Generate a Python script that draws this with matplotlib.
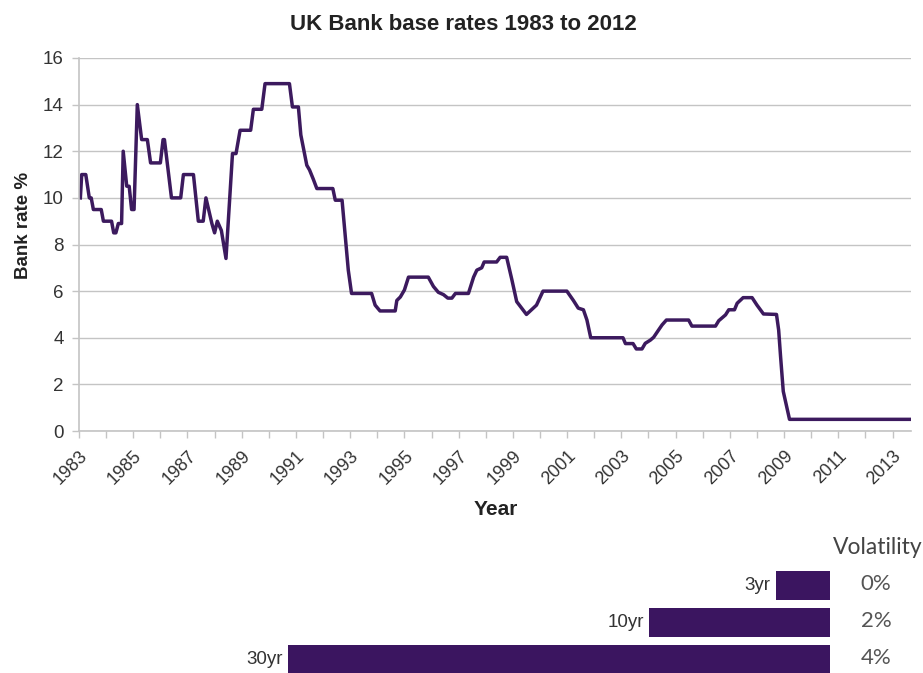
import matplotlib
matplotlib.use('Agg')
import matplotlib.pyplot as plt
import matplotlib.transforms as mtransforms

# base rate path (decimal year, rate %)
years = [1983.05, 1983.1, 1983.25, 1983.38, 1983.45, 1983.53, 1983.82, 1983.9, 1984.2, 1984.28,
         1984.36, 1984.45, 1984.57, 1984.63, 1984.76, 1984.85, 1984.94, 1985.03, 1985.15, 1985.31,
         1985.52, 1985.64, 1986.0, 1986.1, 1986.15, 1986.41, 1986.75, 1986.85, 1987.22, 1987.4,
         1987.58, 1987.68, 1987.9, 1988.0, 1988.1, 1988.25, 1988.42, 1988.66, 1988.79, 1988.94,
         1989.33, 1989.43, 1989.74, 1989.86, 1990.76, 1990.87, 1991.09, 1991.18, 1991.4, 1991.5,
         1991.64, 1991.77, 1992.36, 1992.45, 1992.7, 1992.8, 1992.93, 1993.05, 1993.79, 1993.92,
         1994.1, 1994.66, 1994.72, 1994.85, 1995.0, 1995.15, 1995.88, 1996.07, 1996.25, 1996.44,
         1996.6, 1996.75, 1996.88, 1997.36, 1997.55, 1997.67, 1997.85, 1997.94, 1998.4, 1998.53,
         1998.77, 1998.96, 1999.14, 1999.5, 1999.87, 2000.11, 2000.99, 2001.23, 2001.41, 2001.6,
         2001.73, 2001.87, 2003.06, 2003.15, 2003.43, 2003.55, 2003.76, 2003.88, 2004.07, 2004.19,
         2004.37, 2004.5, 2004.66, 2005.48, 2005.6, 2006.47, 2006.59, 2006.84, 2006.96, 2007.17,
         2007.27, 2007.49, 2007.82, 2008.0, 2008.24, 2008.72, 2008.8, 2008.87, 2008.97, 2009.2,
         2013.68]
rates = [10.0, 11.0, 11.0, 10.0, 10.0, 9.5, 9.5, 9.0, 9.0, 8.5,
         8.5, 8.9, 8.9, 12.0, 10.5, 10.5, 9.5, 9.5, 14.0, 12.5,
         12.5, 11.5, 11.5, 12.5, 12.5, 10.0, 10.0, 11.0, 11.0, 9.0,
         9.0, 10.0, 8.9, 8.5, 9.0, 8.6, 7.4, 11.9, 11.9, 12.9,
         12.9, 13.8, 13.8, 14.9, 14.9, 13.9, 13.9, 12.7, 11.4, 11.2,
         10.8, 10.4, 10.4, 9.9, 9.9, 8.6, 6.9, 5.9, 5.9, 5.4,
         5.15, 5.15, 5.6, 5.75, 6.05, 6.6, 6.6, 6.2, 5.95, 5.85,
         5.7, 5.7, 5.9, 5.9, 6.6, 6.9, 7.0, 7.25, 7.25, 7.45,
         7.45, 6.5, 5.55, 5.0, 5.4, 6.0, 6.0, 5.6, 5.27, 5.2,
         4.76, 4.0, 4.0, 3.75, 3.75, 3.52, 3.52, 3.76, 3.9, 4.02,
         4.33, 4.55, 4.76, 4.76, 4.5, 4.5, 4.73, 4.98, 5.2, 5.2,
         5.48, 5.72, 5.72, 5.4, 5.02, 5.0, 4.33, 3.2, 1.7, 0.5,
         0.5]

# volatility panel
periods = ['3yr', '10yr', '30yr']
period_years = [3, 10, 30]
volatility = ['0%', '2%', '4%']

line_col = '#3c1a5e'
bar_col = '#3b1560'
grid_col = '#c4c4c4'

plt.rcParams['font.family'] = ['Liberation Sans', 'DejaVu Sans']

W, H = 923, 673
fig = plt.figure(figsize=(W / 100, H / 100), dpi=100)

# main line chart
ax = fig.add_axes([79 / W, 1 - 431 / H, (911 - 79) / W, (431 - 58) / H])
ax.plot(years, rates, color=line_col, lw=2.5, solid_joinstyle='round')
ax.set_xlim(1983, 2013.68)
ax.set_ylim(0, 16)
ax.set_yticks(range(0, 17, 2))
ax.set_xticks(range(1983, 2014))
ax.set_xticklabels([str(y) if (y - 1983) % 2 == 0 else '' for y in range(1983, 2014)],
                   rotation=45, ha='right', va='top', rotation_mode='anchor')
ax.yaxis.grid(True, color=grid_col, lw=1)
ax.set_axisbelow(True)
for s in ['top', 'right']:
    ax.spines[s].set_visible(False)
for s in ['left', 'bottom']:
    ax.spines[s].set_color(grid_col)
    ax.spines[s].set_linewidth(1.2)
ax.tick_params(axis='both', colors=grid_col, labelcolor='#333333', length=5, width=1)
ax.tick_params(axis='x', labelsize=13, pad=7)
ax.tick_params(axis='y', labelsize=13.5, pad=6)
ax.set_ylabel('Bank rate %', fontsize=13.5, fontweight='bold', color='#222222')
ax.yaxis.set_label_coords(-0.056, 0.55)
ax.set_xlabel('Year', fontsize=15, fontweight='bold', color='#222222')
ax.xaxis.set_label_coords(0.501, -0.185)
fig.text(463 / W, 1 - 25 / H, 'UK Bank base rates 1983 to 2012', ha='center', va='center',
         fontsize=16, fontweight='bold', color='#222222')

# volatility bars, growing leftwards from a common right edge
bx = fig.add_axes([250 / W, 0, (830 - 250) / W, (673 - 565) / H])
ypos = list(range(len(periods)))
bx.barh(ypos, period_years, height=0.78, color=bar_col)
bx.set_xlim(32.1, 0)
bx.set_ylim(2.35, -0.55)
bx.axis('off')
for y, v, lab in zip(ypos, period_years, periods):
    bx.text(v + 0.3, y, lab, ha='right', va='center', fontsize=13.5, color='#333333')
tr = mtransforms.blended_transform_factory(fig.transFigure, bx.transData)
for y, pct in zip(ypos, volatility):
    bx.text(876 / W, y - 0.05, pct, transform=tr, ha='center', va='center', fontsize=16,
            color='#555555', family=['Lato', 'DejaVu Sans'])
fig.text(878 / W, 1 - 547 / H, 'Volatility', ha='center', va='center', fontsize=16.5,
         color='#444444', family=['Lato', 'DejaVu Sans'])

fig.savefig('out.png', dpi=100)
